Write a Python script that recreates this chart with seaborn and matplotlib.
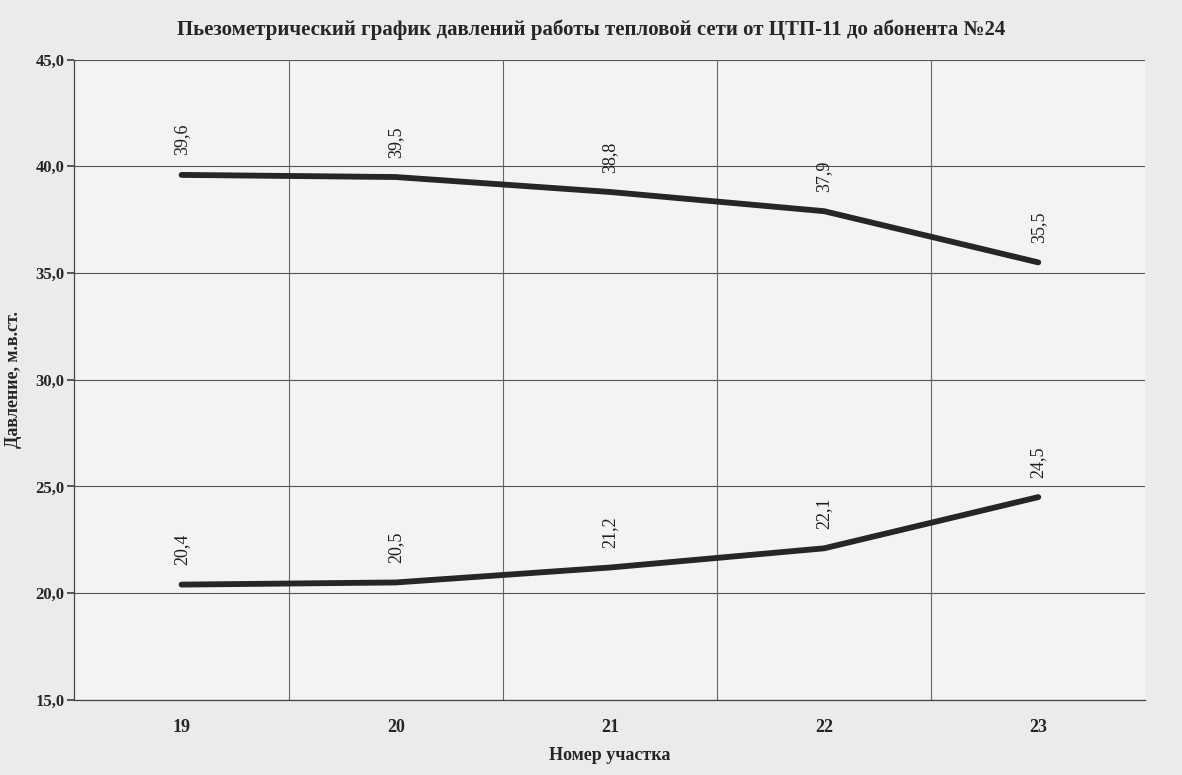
import numpy as np
import pandas as pd
import matplotlib.pyplot as plt
import seaborn as sns

# data
sections = ['19', '20', '21', '22', '23']
supply = [39.6, 39.5, 38.8, 37.9, 35.5]
ret = [20.4, 20.5, 21.2, 22.1, 24.5]
y_ticks = [15, 20, 25, 30, 35, 40, 45]

df = pd.DataFrame({
    'idx': list(range(len(sections))) * 2,
    'value': supply + ret,
    'line': ['supply'] * len(sections) + ['return'] * len(sections),
})

sns.set_theme(style='white')
plt.rcParams['font.family'] = ['Liberation Serif', 'DejaVu Serif']

fig = plt.figure(figsize=(11.82, 7.75), dpi=100, facecolor='#ebebeb')
ax = fig.add_axes([0.063, 0.097, 0.906, 0.826])
ax.set_facecolor('#f3f3f3')

for name in ['supply', 'return']:
    sns.lineplot(data=df[df['line'] == name], x='idx', y='value', ax=ax,
                 color='#262626', linewidth=4.2, legend=False)

# data labels, rotated like in the original
for i, (a, b) in enumerate(zip(supply, ret)):
    for v in (a, b):
        ax.annotate(f'{v:.1f}'.replace('.', ','), (i, v), xytext=(0, 14),
                    textcoords='offset points', rotation=90, ha='center',
                    va='bottom', fontsize=13, color='#1e1e1e')

ax.set_xlim(-0.5, len(sections) - 0.5)
ax.set_ylim(15, 45)
ax.set_yticks(y_ticks)
ax.set_yticklabels([f'{t:.1f}'.replace('.', ',') for t in y_ticks],
                   fontsize=12, fontweight='bold')
ax.set_xticks(range(len(sections)))
ax.set_xticklabels(sections, fontsize=13, fontweight='bold')
ax.tick_params(axis='x', length=0, pad=14)
ax.tick_params(axis='y', length=5, left=True, color='#444444', pad=2)

# horizontal grid at the ticks, vertical grid between categories
for t in y_ticks:
    ax.axhline(t, color='#555555', linewidth=0.8, zorder=0)
for b in np.arange(0.5, len(sections) - 0.5, 1):
    ax.axvline(b, color='#666666', linewidth=0.8, zorder=0)

for side in ['top', 'right']:
    ax.spines[side].set_visible(False)
for side in ['left', 'bottom']:
    ax.spines[side].set_color('#444444')
    ax.spines[side].set_linewidth(0.9)

ax.set_xlabel('Номер участка', fontsize=13, fontweight='bold', labelpad=8)
ax.set_ylabel('Давление, м.в.ст.', fontsize=13, fontweight='bold')
ax.yaxis.set_label_coords(-0.049, 0.5)
fig.suptitle('Пьезометрический график давлений работы тепловой сети от ЦТП-11 до абонента №24',
             x=0.5, y=0.975, fontsize=15, fontweight='bold')

fig.savefig('out.png', dpi=100, facecolor=fig.get_facecolor())
